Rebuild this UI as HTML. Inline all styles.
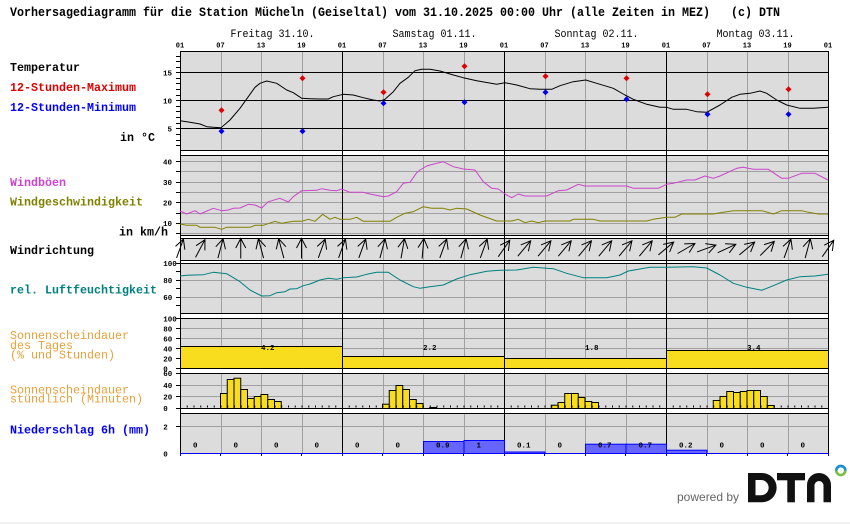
<!DOCTYPE html>
<html><head><meta charset="utf-8"><style>
html,body{margin:0;padding:0;background:#fff;}
svg{display:block;}
text{font-family:"Liberation Mono","DejaVu Sans Mono",monospace;}
.lb{font-size:12px;font-weight:bold;}
.tk{font-size:7.5px;font-weight:bold;}
.hr{font-size:7px;font-weight:bold;}
.or{font-size:12px;fill:#e8a038;}
</style></head><body>
<svg width="850" height="524" viewBox="0 0 850 524" xmlns="http://www.w3.org/2000/svg">
<defs><path id="ar" d="M0,10V-10M-5,-0.5L0,-10L5,-0.5" fill="none" stroke="#000" stroke-width="1"/></defs>
<rect width="850" height="524" fill="#fff"/>
<rect x="0" y="522" width="850" height="2" fill="#f0f0f0"/>

<!-- panel backgrounds -->
<g fill="#dcdcdc">
<rect x="180" y="51" width="649" height="100"/>
<rect x="180" y="155" width="649" height="81"/>
<rect x="180" y="238" width="649" height="23"/>
<rect x="180" y="263" width="649" height="51"/>
<rect x="180" y="318" width="649" height="51"/>
<rect x="180" y="373" width="649" height="36"/>
<rect x="180" y="413" width="649" height="41"/>
</g>

<!-- gray grid -->
<g stroke="#a0a0a0" stroke-width="1" fill="none" shape-rendering="crispEdges">
<path d="M180,161.5H829M180,171.5H829M180,182.5H829M180,192.5H829M180,202.5H829M180,213.5H829M180,223.5H829M180,233.5H829"/>
<path d="M180,280.5H829M180,297.5H829"/>
<path d="M180,328.5H829M180,338.5H829M180,348.5H829M180,358.5H829"/>
<path d="M180,385.5H829M180,396.5H829"/>
<path d="M180,426.5H829"/>
<path d="M221.5,51V453M261.5,51V453M302.5,51V453M383.5,51V453M423.5,51V453M464.5,51V453M545.5,51V453M585.5,51V453M626.5,51V453M707.5,51V453M747.5,51V453M788.5,51V453"/>
</g>

<!-- white gaps -->
<g fill="#fff">
<rect x="180" y="151" width="649" height="4"/>
<rect x="180" y="236" width="649" height="2"/>
<rect x="180" y="261" width="649" height="2"/>
<rect x="180" y="314" width="649" height="4"/>
<rect x="180" y="369" width="649" height="4"/>
<rect x="180" y="409" width="649" height="4"/>
</g>

<!-- black horizontal lines -->
<g stroke="#000" stroke-width="1" fill="none" shape-rendering="crispEdges">
<path d="M180,72.5H829M180,100.5H829M180,128.5H829"/>
<path d="M180,51.5H829M180,150.5H829M180,155.5H829M180,235.5H829M180,238.5H829M180,260.5H829M180,263.5H829M180,313.5H829M180,318.5H829M180,368.5H829M180,373.5H829M180,408.5H829M180,413.5H829"/>
<path d="M180.5,51V454M342.5,51V454M504.5,51V454M666.5,51V454M828.5,51V454"/>
<!-- left axis ticks -->
<path d="M176,56.5H180M176,61.5H180M176,67.5H180M176,72.5H180M176,78.5H180M176,83.5H180M176,89.5H180M176,95.5H180M176,100.5H180M176,106.5H180M176,111.5H180M176,117.5H180M176,123.5H180M176,128.5H180M176,134.5H180M176,140.5H180M176,145.5H180"/>
<path d="M176,161.5H180M176,171.5H180M176,182.5H180M176,192.5H180M176,202.5H180M176,213.5H180M176,223.5H180M176,233.5H180"/>
<path d="M176,263.5H180M176,271.5H180M176,280.5H180M176,288.5H180M176,297.5H180M176,305.5H180"/>
<path d="M176,318.5H180M176,328.5H180M176,338.5H180M176,348.5H180M176,358.5H180M176,368.5H180"/>
<path d="M176,373.5H180M176,385.5H180M176,396.5H180M176,408.5H180"/>
<path d="M176,426.5H180"/>
</g>

<!-- daily sunshine bars -->
<g fill="#f8dc1e" stroke="#000" stroke-width="1">
<rect x="180.5" y="346.5" width="162" height="22"/>
<rect x="342.5" y="356.5" width="162" height="12"/>
<rect x="504.5" y="358.5" width="162" height="10"/>
<rect x="666.5" y="350.5" width="162" height="18"/>
</g>

<!-- hourly sunshine bars -->
<g fill="#f8dc1e" stroke="#000" stroke-width="1">
<rect x="220.5" y="393.5" width="6.75" height="15"/>
<rect x="227.25" y="379.5" width="6.75" height="29"/>
<rect x="234" y="378.2" width="6.75" height="30.3"/>
<rect x="240.75" y="389.5" width="6.75" height="19"/>
<rect x="247.5" y="398.5" width="6.75" height="10"/>
<rect x="254.25" y="396.5" width="6.75" height="12"/>
<rect x="261" y="394.5" width="6.75" height="14"/>
<rect x="267.75" y="399.5" width="6.75" height="9"/>
<rect x="274.5" y="401.5" width="6.75" height="7"/>

<rect x="382.5" y="404.2" width="6.75" height="4.3"/>
<rect x="389.25" y="390.5" width="6.75" height="18"/>
<rect x="396" y="385.5" width="6.75" height="23"/>
<rect x="402.75" y="389.5" width="6.75" height="19"/>
<rect x="409.5" y="399.5" width="6.75" height="9"/>
<rect x="416.25" y="403.5" width="6.75" height="5"/>
<rect x="429.75" y="407.5" width="6.75" height="1"/>

<rect x="551.25" y="405.2" width="6.75" height="3.3"/>
<rect x="558" y="402.5" width="6.75" height="6"/>
<rect x="564.75" y="393.5" width="6.75" height="15"/>
<rect x="571.5" y="393.5" width="6.75" height="15"/>
<rect x="578.25" y="397.5" width="6.75" height="11"/>
<rect x="585" y="401.5" width="6.75" height="7"/>
<rect x="591.75" y="402.5" width="6.75" height="6"/>

<rect x="713.25" y="400.5" width="6.75" height="8"/>
<rect x="720" y="396.5" width="6.75" height="12"/>
<rect x="726.75" y="391.5" width="6.75" height="17"/>
<rect x="733.5" y="392.5" width="6.75" height="16"/>
<rect x="740.25" y="391.5" width="6.75" height="17"/>
<rect x="747" y="390.5" width="6.75" height="18"/>
<rect x="753.75" y="390.5" width="6.75" height="18"/>
<rect x="760.5" y="396.5" width="6.75" height="12"/>
<rect x="767.25" y="405.5" width="6.75" height="3"/>
</g>
<!-- hourly ticks -->
<line x1="180" y1="406.5" x2="829" y2="406.5" stroke="#000" stroke-width="2" stroke-dasharray="1 5.75"/>

<!-- precipitation bars -->
<g fill="#6666ff" stroke="#0000ff" stroke-width="1">
<rect x="423.5" y="441.5" width="40.5" height="12"/>
<rect x="464" y="440.5" width="40.5" height="13"/>
<rect x="504.5" y="452" width="40.5" height="1.5"/>
<rect x="585.5" y="444.2" width="40.5" height="9.3"/>
<rect x="626" y="444.2" width="40.5" height="9.3"/>
<rect x="666.5" y="450.2" width="40.5" height="3.3"/>
</g>
<g stroke="#0000ff" stroke-width="1" fill="none" shape-rendering="crispEdges">
<path d="M180,453.5H829"/>
<path d="M180.5,453V456M220.5,453V456M261.5,453V456M301.5,453V456M342.5,453V456M382.5,453V456M423.5,453V456M463.5,453V456M504.5,453V456M544.5,453V456M585.5,453V456M625.5,453V456M666.5,453V456M706.5,453V456M747.5,453V456M787.5,453V456M828.5,453V456"/>
</g>

<!-- data curves -->
<g fill="none" stroke-width="1" stroke-linejoin="round">
<polyline stroke="#000" points="180,120.7 190,122.3 200,124 206.7,126.7 213.3,127.3 221,127.7 230,120 240,108.3 248.3,96.7 255,87.3 260,83.3 266.7,81 276.7,83.3 286.7,90 293.3,92.7 301.7,98.3 310,98.7 320,99 328.3,99 333.3,96.7 343.3,94.3 353.3,95 363.3,97.7 373.3,100 380,101 385,99.3 393.3,91.7 400,83.3 408.3,77.3 415,70.7 421.7,69.3 430,69.3 440,71 453.3,75 463.3,77.7 476.7,80.7 496.7,84.3 505,82.7 516.7,85 530,88.7 540,89.3 551.7,89.3 560,85.7 573.3,81.7 585.7,80 596.7,83.3 613.3,88.3 625,95 633.3,99.3 646.7,104.3 660,107.3 666.7,107.3 673.3,109.3 686.7,109.3 696.7,111.7 706.7,112.3 720,105 731.7,97.3 740,94.3 750,93.3 760,91 766.7,93.3 776.7,100 786.7,105 800,108.3 813.3,108.3 828,107.3"/>
<polyline stroke="#cc44cc" points="180,211 186.7,214 195,210.7 200,214 213.3,208.3 221.7,210.7 228.3,210 233.3,208.3 240,208 248.3,204.3 255,205 261.7,208 268.3,201.7 280,198.3 288.3,202 293.3,196.7 301.7,190.7 316.7,190.3 321.7,188.7 330,190.3 336.7,190.7 341.7,189 350,192.3 363.3,192.3 370,194 383.3,196.7 388.3,196 396.7,191.7 403.3,183.3 410,182.3 416.7,172.7 420,170 426.7,166 430,165 443.3,161.7 453.3,166.7 463.3,169 475,170 483.3,181.7 491.7,188.3 498.3,189 505,194 511.7,197.7 518.3,194 525,196 546.7,196 558.3,190.7 566.7,190 578.3,184.3 585,186 626.7,186 633.3,188.3 658.3,188.3 666.7,184.3 673.3,183.3 686.7,180 695,180 705,176 713.3,178.3 720,176 736.7,168.3 743.3,167.3 753.3,169.3 768.3,169.3 781.7,178.3 788.3,178.3 801.7,173.3 815,173.3 828,180"/>
<polyline stroke="#808000" points="180,224 186.7,225.3 196.7,225.3 200,227.3 215,227.3 221.7,229.3 226.7,227.3 250,227.3 255,225.3 263.3,225.3 275,221.3 281.7,223.3 293.3,221.3 301.7,221.3 308.3,219.3 315,221.3 322.7,214.3 330,219.3 335,217.3 340,219.3 350,219.3 356.7,217.3 363.3,221.3 390,221.3 396.7,217.3 405,213.3 413.3,211.7 423.3,206.7 431.7,208.3 443.3,208.3 450,210 456.7,208.3 466.7,209 480,215 496.7,221 511.7,221 518.3,219.3 525,222.7 531.7,221 538.3,222.7 545,221 570,221 573.3,219.3 593.3,219.3 600,221 646.7,221 653.3,219.3 666.7,217.3 675,217.3 681.7,214 713.3,214 720,212.7 733.3,210.7 761.7,210.7 773.3,214 781.7,210.7 801.7,210.7 808.3,212.3 818.3,214 828,214"/>
<polyline stroke="#008080" points="180,276 186.7,275.3 203.3,274.7 213.3,272.3 226.7,273.7 240,281.7 250,290 261.7,296 270,295.7 276.7,292.7 285,291.7 290,289 296.7,288.7 303.3,285.7 310,284 320,280 328.3,278.3 336.7,279.3 343.3,277.7 356.7,277 366.7,274.3 376.7,272.3 388.3,272.3 400,280 413.3,286.7 420,288.3 430,286.7 443.3,285 456.7,279 470,274.7 486.7,271.3 500,270.3 516.7,270 533.3,267.3 553.3,268.7 566.7,273.3 583.3,277.7 606.7,277.7 620,275 628.3,271 650,267.3 666.7,267.3 693.3,266.7 706.7,268 720,275 733.3,283.3 746.7,287.3 761.7,290.3 773.3,285.7 786.7,280 800,276.7 815,276 828,274.3"/>
</g>

<!-- max / min markers -->
<g fill="#dd0000">
<path d="M221.5,107.3l3,3-3,3-3,-3z"/>
<path d="M302.5,75.3l3,3-3,3-3,-3z"/>
<path d="M383.5,89.3l3,3-3,3-3,-3z"/>
<path d="M464.5,63.3l3,3-3,3-3,-3z"/>
<path d="M545.5,73.3l3,3-3,3-3,-3z"/>
<path d="M626.5,75.3l3,3-3,3-3,-3z"/>
<path d="M707.5,91.3l3,3-3,3-3,-3z"/>
<path d="M788.5,86.3l3,3-3,3-3,-3z"/>
</g>
<g fill="#0000ee">
<path d="M221.5,128.3l3,3-3,3-3,-3z"/>
<path d="M302.5,128.3l3,3-3,3-3,-3z"/>
<path d="M383.5,100.3l3,3-3,3-3,-3z"/>
<path d="M464.5,99.3l3,3-3,3-3,-3z"/>
<path d="M545.5,89.3l3,3-3,3-3,-3z"/>
<path d="M626.5,96.3l3,3-3,3-3,-3z"/>
<path d="M707.5,111.3l3,3-3,3-3,-3z"/>
<path d="M788.5,111.3l3,3-3,3-3,-3z"/>
</g>

<!-- wind direction arrows -->
<g>
<use href="#ar" transform="translate(180,248.5) rotate(20)"/>
<use href="#ar" transform="translate(200.25,248.5) rotate(28)"/>
<use href="#ar" transform="translate(220.5,248.5) rotate(15)"/>
<use href="#ar" transform="translate(240.75,248.5) rotate(0)"/>
<use href="#ar" transform="translate(261,248.5) rotate(-15)"/>
<use href="#ar" transform="translate(281.25,248.5) rotate(-15)"/>
<use href="#ar" transform="translate(301.5,248.5) rotate(0)"/>
<use href="#ar" transform="translate(321.75,248.5) rotate(20)"/>
<use href="#ar" transform="translate(342,248.5) rotate(20)"/>
<use href="#ar" transform="translate(362.25,248.5) rotate(20)"/>
<use href="#ar" transform="translate(382.5,248.5) rotate(15)"/>
<use href="#ar" transform="translate(402.75,248.5) rotate(10)"/>
<use href="#ar" transform="translate(423,248.5) rotate(5)"/>
<use href="#ar" transform="translate(443.25,248.5) rotate(20)"/>
<use href="#ar" transform="translate(463.5,248.5) rotate(15)"/>
<use href="#ar" transform="translate(483.75,248.5) rotate(20)"/>
<use href="#ar" transform="translate(504,248.5) rotate(35)"/>
<use href="#ar" transform="translate(524.25,248.5) rotate(40)"/>
<use href="#ar" transform="translate(544.5,248.5) rotate(40)"/>
<use href="#ar" transform="translate(564.75,248.5) rotate(40)"/>
<use href="#ar" transform="translate(585,248.5) rotate(40)"/>
<use href="#ar" transform="translate(605.25,248.5) rotate(40)"/>
<use href="#ar" transform="translate(625.5,248.5) rotate(40)"/>
<use href="#ar" transform="translate(645.75,248.5) rotate(40)"/>
<use href="#ar" transform="translate(666,248.5) rotate(50)"/>
<use href="#ar" transform="translate(686.25,248.5) rotate(60)"/>
<use href="#ar" transform="translate(706.5,248.5) rotate(70)"/>
<use href="#ar" transform="translate(726.75,248.5) rotate(65)"/>
<use href="#ar" transform="translate(747,248.5) rotate(50)"/>
<use href="#ar" transform="translate(767.25,248.5) rotate(45)"/>
<use href="#ar" transform="translate(787.5,248.5) rotate(20)"/>
<use href="#ar" transform="translate(807.75,248.5) rotate(15)"/>
<use href="#ar" transform="translate(828,248.5) rotate(35)"/>
</g>

<!-- title -->
<text x="10" y="16" font-size="13" font-weight="bold" textLength="770" lengthAdjust="spacingAndGlyphs" style="white-space:pre">Vorhersagediagramm für die Station Mücheln (Geiseltal) vom 31.10.2025 00:00 Uhr (alle Zeiten in MEZ)   (c) DTN</text>

<!-- day labels -->
<g font-size="11">
<text x="230.5" y="37" textLength="84" lengthAdjust="spacingAndGlyphs">Freitag 31.10.</text>
<text x="392.5" y="37" textLength="84" lengthAdjust="spacingAndGlyphs">Samstag 01.11.</text>
<text x="554.5" y="37" textLength="84" lengthAdjust="spacingAndGlyphs">Sonntag 02.11.</text>
<text x="716.5" y="37" textLength="78" lengthAdjust="spacingAndGlyphs">Montag 03.11.</text>
</g>

<!-- hour labels -->
<g class="hr" text-anchor="middle">
<text x="180" y="47.5">01</text><text x="220.5" y="47.5">07</text><text x="261" y="47.5">13</text><text x="301.5" y="47.5">19</text>
<text x="342" y="47.5">01</text><text x="382.5" y="47.5">07</text><text x="423" y="47.5">13</text><text x="463.5" y="47.5">19</text>
<text x="504" y="47.5">01</text><text x="544.5" y="47.5">07</text><text x="585" y="47.5">13</text><text x="625.5" y="47.5">19</text>
<text x="666" y="47.5">01</text><text x="706.5" y="47.5">07</text><text x="747" y="47.5">13</text><text x="787.5" y="47.5">19</text>
<text x="828" y="47.5">01</text>
</g>

<!-- axis tick labels -->
<g class="tk" text-anchor="end">
<text x="172" y="75.3">15</text><text x="172" y="103.3">10</text><text x="172" y="131.3">5</text>
<text x="172" y="164.3">40</text><text x="172" y="185">30</text><text x="172" y="205.3">20</text><text x="172" y="226">10</text>
</g>
<g class="tk">
<text x="163.3" y="266">100</text><text x="163.3" y="283">80</text><text x="163.3" y="300">60</text>
<text x="163.3" y="321.3">100</text><text x="163.3" y="331.3">80</text><text x="163.3" y="341.3">60</text><text x="163.3" y="351.3">40</text><text x="163.3" y="361.3">20</text><text x="163.3" y="371.3">0</text>
<text x="163.3" y="375.8">60</text><text x="163.3" y="387.8">40</text><text x="163.3" y="399.3">20</text><text x="163.3" y="411">0</text>
<text x="163.3" y="429.5">2</text><text x="163.3" y="456.5">0</text>
</g>

<!-- daily sunshine values -->
<g class="tk">
<text x="261" y="350">4.2</text><text x="423" y="350">2.2</text><text x="585" y="350">1.8</text><text x="747" y="350">3.4</text>
</g>

<!-- precipitation values -->
<g class="tk">
<text x="193" y="447.5">0</text><text x="233.5" y="447.5">0</text><text x="274" y="447.5">0</text><text x="314.5" y="447.5">0</text>
<text x="355" y="447.5">0</text><text x="395.5" y="447.5">0</text><text x="436" y="447.5">0.9</text><text x="476.5" y="447.5">1</text>
<text x="517" y="447.5">0.1</text><text x="557.5" y="447.5">0</text><text x="598" y="447.5">0.7</text><text x="638.5" y="447.5">0.7</text>
<text x="679" y="447.5">0.2</text><text x="719.5" y="447.5">0</text><text x="760" y="447.5">0</text><text x="800.5" y="447.5">0</text>
</g>

<!-- left labels -->
<text class="lb" x="10" y="71" textLength="70" lengthAdjust="spacingAndGlyphs">Temperatur</text>
<text class="lb" x="10" y="91" fill="#dd0000" textLength="126" lengthAdjust="spacingAndGlyphs">12-Stunden-Maximum</text>
<text class="lb" x="10" y="111" fill="#0000ff" textLength="126" lengthAdjust="spacingAndGlyphs">12-Stunden-Minimum</text>
<text class="lb" x="120" y="141" textLength="35" lengthAdjust="spacingAndGlyphs" style="white-space:pre">in °C</text>
<text class="lb" x="10" y="186" fill="#cc44cc" textLength="56" lengthAdjust="spacingAndGlyphs">Windböen</text>
<text class="lb" x="10" y="205.5" fill="#808000" textLength="133" lengthAdjust="spacingAndGlyphs">Windgeschwindigkeit</text>
<text class="lb" x="119" y="235.5" textLength="49" lengthAdjust="spacingAndGlyphs" style="white-space:pre">in km/h</text>
<text class="lb" x="10" y="254" textLength="84" lengthAdjust="spacingAndGlyphs">Windrichtung</text>
<text class="lb" x="10" y="293.5" fill="#008080" textLength="147" lengthAdjust="spacingAndGlyphs" style="white-space:pre">rel. Luftfeuchtigkeit</text>
<text class="or" x="10" y="339" textLength="119" lengthAdjust="spacingAndGlyphs">Sonnenscheindauer</text>
<text class="or" x="10" y="349" textLength="63" lengthAdjust="spacingAndGlyphs" style="white-space:pre">des Tages</text>
<text class="or" x="10" y="358.5" textLength="105" lengthAdjust="spacingAndGlyphs" style="white-space:pre">(% und Stunden)</text>
<text class="or" x="10" y="393.5" textLength="119" lengthAdjust="spacingAndGlyphs">Sonnenscheindauer</text>
<text class="or" x="10" y="402.5" textLength="133" lengthAdjust="spacingAndGlyphs" style="white-space:pre">stündlich (Minuten)</text>
<text class="lb" x="10" y="433.5" fill="#0000ff" textLength="140" lengthAdjust="spacingAndGlyphs" style="white-space:pre">Niederschlag 6h (mm)</text>

<!-- powered by DTN -->
<text x="677" y="501" font-family="Liberation Sans, sans-serif" style="font-family:'Liberation Sans',sans-serif" font-size="12" fill="#666">powered by</text>
<g fill="#111">
<path fill-rule="evenodd" d="M748,473H762A14.6,14.6 0 0 1 762,502.3H748Z M755.5,480H761A7.6,7.6 0 0 1 761,495.3H755.5Z"/>
<rect x="777" y="473" width="28" height="7.3"/>
<rect x="787.3" y="473" width="7.6" height="29.3"/>
<path d="M807,502.3V485A12,12 0 0 1 831,485V502.3H823.5V485.5A4.5,4.5 0 0 0 814.5,485.5V502.3Z"/>
</g>
<path d="M836.3,470.5A4.5,4.5 0 0 1 845.3,470.5" fill="none" stroke="#1a8fd6" stroke-width="2.7"/>
<path d="M845.3,470.5A4.5,4.5 0 0 1 836.3,470.5" fill="none" stroke="#7ac143" stroke-width="2.7"/>
</svg>
</body></html>
